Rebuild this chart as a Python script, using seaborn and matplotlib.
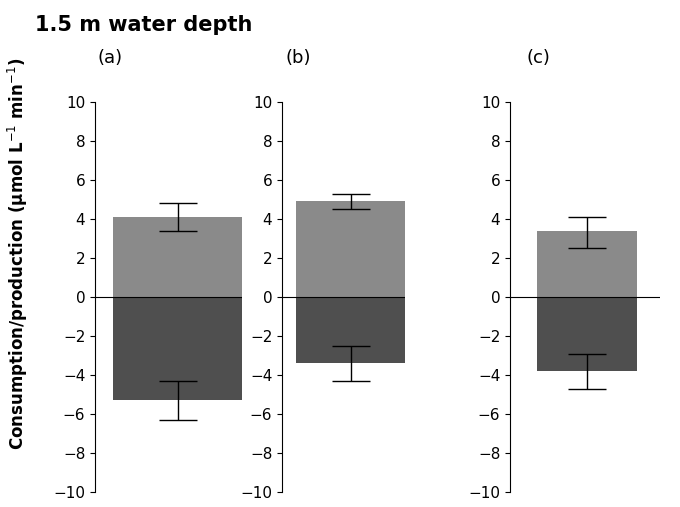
import matplotlib.pyplot as plt
import seaborn as sns
import pandas as pd

panels = ["(a)", "(b)", "(c)"]
production = [4.1, 4.9, 3.4]
prod_err_lo = [3.4, 4.5, 2.5]
prod_err_hi = [4.8, 5.3, 4.1]
consumption = [-5.3, -3.4, -3.8]
cons_err_lo = [-6.3, -4.3, -4.7]
cons_err_hi = [-4.3, -2.5, -2.9]

# pixel layout: axis left, axis right, bar left, bar right, label x
layout = [(95, 242, 113, 242, 110), (282, 405, 296, 405, 298), (510, 660, 537, 637, 538)]

W, H = 680, 507
fig = plt.figure(figsize=(6.8, 5.07), dpi=100)
fig.text(35 / W, 1 - 25 / H, "1.5 m water depth", fontsize=15, fontweight="bold", va="center")

bw = 0.8
for i, (al, ar, bl, br, lx) in enumerate(layout):
    ax = fig.add_axes([al / W, (507 - 492) / H, (ar - al) / W, 390 / H])
    df = pd.DataFrame({"x": ["p", "p"], "v": [production[i], consumption[i]], "kind": ["prod", "cons"]})
    sns.barplot(data=df, x="x", y="v", hue="kind", dodge=False, palette=["#8a8a8a", "#4f4f4f"],
                width=bw, legend=False, ax=ax, errorbar=None)
    for lo, hi, val in [(prod_err_lo[i], prod_err_hi[i], production[i]),
                        (cons_err_lo[i], cons_err_hi[i], consumption[i])]:
        ax.errorbar([0], [val], yerr=[[val - lo], [hi - val]], fmt="none", ecolor="black",
                    elinewidth=1, capsize=14 / 1.0, capthick=1)
    c = (bl + br) / 2
    scale = bw / (br - bl)
    ax.set_xlim(-(c - al) * scale, (ar - c) * scale)
    ax.set_ylim(-10, 10)
    ax.set_yticks(range(-10, 11, 2))
    ax.axhline(0, color="black", lw=0.8)
    for s in ["top", "right", "bottom"]:
        ax.spines[s].set_visible(False)
    ax.set_xticks([])
    ax.set_xlabel("")
    ax.set_ylabel("")
    ax.tick_params(axis="y", labelsize=11)
    fig.text(lx / W, 1 - 58 / H, panels[i], fontsize=13, ha="center", va="center")

fig.text(18 / W, 0.5, "Consumption/production (μmol L$^{-1}$ min$^{-1}$)", rotation=90,
         fontsize=12, fontweight="bold", ha="center", va="center")
fig.savefig("out.png", dpi=100)
